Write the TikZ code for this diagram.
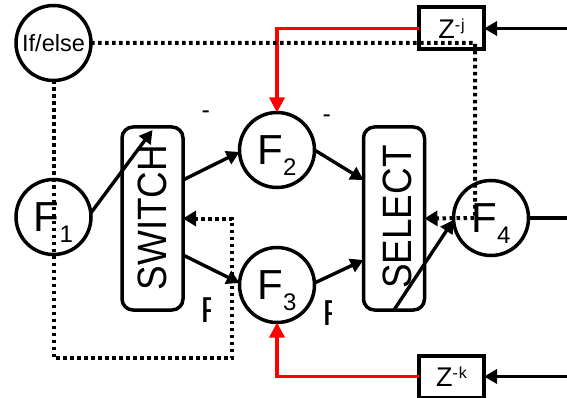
\documentclass[tikz,border=0pt]{standalone}
\usepackage{fontspec}
\setmainfont{Liberation Sans}
\usetikzlibrary{arrows.meta,calc}
\newcommand{\Flab}[1]{{\fontsize{42}{42}\selectfont F}\raisebox{-11pt}[0pt][0pt]{\fontsize{24}{24}\selectfont #1}}
\newcommand{\Zlab}[1]{{\fontsize{27}{27}\selectfont Z}\raisebox{8.5pt}{\fontsize{16}{16}\selectfont -\kern0.8pt #1}}
\begin{document}
\begin{tikzpicture}[x=1pt,y=-1pt,
  circ/.style={draw, circle, line width=3.5pt, minimum size=75pt, inner sep=0pt, outer sep=0pt, fill=white},
  rbox/.style={draw, rounded corners=11pt, line width=3.5pt, minimum width=61pt, minimum height=183pt, inner sep=0pt, outer sep=0pt, fill=white},
  zbox/.style={draw, line width=4pt, minimum width=65pt, minimum height=42pt, inner sep=0pt, outer sep=0pt, fill=white},
  rtext/.style={rotate=90, inner sep=0pt, font=\fontsize{41}{41}\selectfont},
  arr/.style={line width=3.4pt, -{Triangle[length=13pt,width=14pt]}},
  redarr/.style={line width=3.4pt, red, -{Triangle[length=15pt,width=15pt]}},
  dots/.style={line width=4pt, dash pattern=on 3.5pt off 3.5pt},
  dotarr/.style={dots, -{Triangle[length=13pt,width=15pt]}},
  smalltxt/.style={inner sep=0pt, font=\fontsize{25}{25}\selectfont},
  cuttxt/.style={inner sep=0pt, anchor=base west, font=\fontsize{36}{36}\selectfont},
]
\useasboundingbox (0,0) rectangle (567,398);

% boxes
\node[rbox] (SWITCH) at (152.5,218.5) {};
\node[rtext] (swtxt) at (152.5,217.5) {\scalebox{0.9}[1]{SWITCH}};
\node[rbox] (SELECT) at (394,218.5) {};
\node[rtext] (seltxt) at (397,217) {\scalebox{0.9}[1]{SELECT}};

% circles
\node[circ] (IfElse) at (53.5,43) {\fontsize{23.5}{23.5}\selectfont If/else};
\node[circ] (F1) at (53.5,217) {\Flab{1}};
\node[circ] (F2) at (277,150) {\Flab{2}};
\node[circ] (F3) at (277,285) {\Flab{3}};
\node[circ] (F4) at (491,218) {\Flab{4}};

% delay boxes
\node[zbox] (Zj) at (451.5,28.5) {\Zlab{j}};
\node[zbox] (Zk) at (451.5,376.5) {\Zlab{k}};

% side labels
\node[smalltxt] (m1) at (205.7,114.3) {-};
\node[smalltxt] (m2) at (326.7,119) {-};
\begin{scope}
\clip (200,288) rectangle (210.5,332);
\node[cuttxt] (c1) at (200.2,322) {F};
\end{scope}
\begin{scope}
\clip (320,288) rectangle (331.5,335);
\node[cuttxt] (c2) at (322.2,325) {F};
\end{scope}

% coordinates
\coordinate (inj) at (567,28.5);
\coordinate (ink) at (567,376.5);
\coordinate (out4) at (567,218);
\coordinate (d1) at (475,43);
\coordinate (d2) at (53.5,358);
\coordinate (d3) at (232,358);

% black arrows
\draw[arr] (F1.6) -- ($(SWITCH.north)+(0,3)$);
\draw[arr] ($(SWITCH.east)+(0,-38.5)$) -- (F2.183);
\draw[arr] (F2.east) -- ($(SELECT.west)+(0,-38.5)$);
\draw[arr] ($(SWITCH.east)+(0,36.5)$) -- (F3.177);
\draw[arr] (F3.3) -- ($(SELECT.west)+(0,41.5)$);
\draw[arr] (SELECT.south) -- (F4.183);
\draw[arr] (inj) -- (Zj.east);
\draw[arr] (ink) -- (Zk.east);
\draw[line width=3.4pt] (F4.east) -- (out4);

% red arrows
\draw[redarr] (Zj.west) -- (Zj.west -| F2.north) -- (F2.north);
\draw[redarr] (Zk.west) -- (Zk.west -| F3.south) -- (F3.south);

% dotted control lines
\draw[dotarr] (IfElse.east) -- (d1) -- (d1 |- F4.center) -- (SELECT.east);
\draw[dotarr] (IfElse.south) -- (d2) -- (d3) -- (d3 |- SWITCH.east) -- (SWITCH.east);
\end{tikzpicture}
\end{document}
